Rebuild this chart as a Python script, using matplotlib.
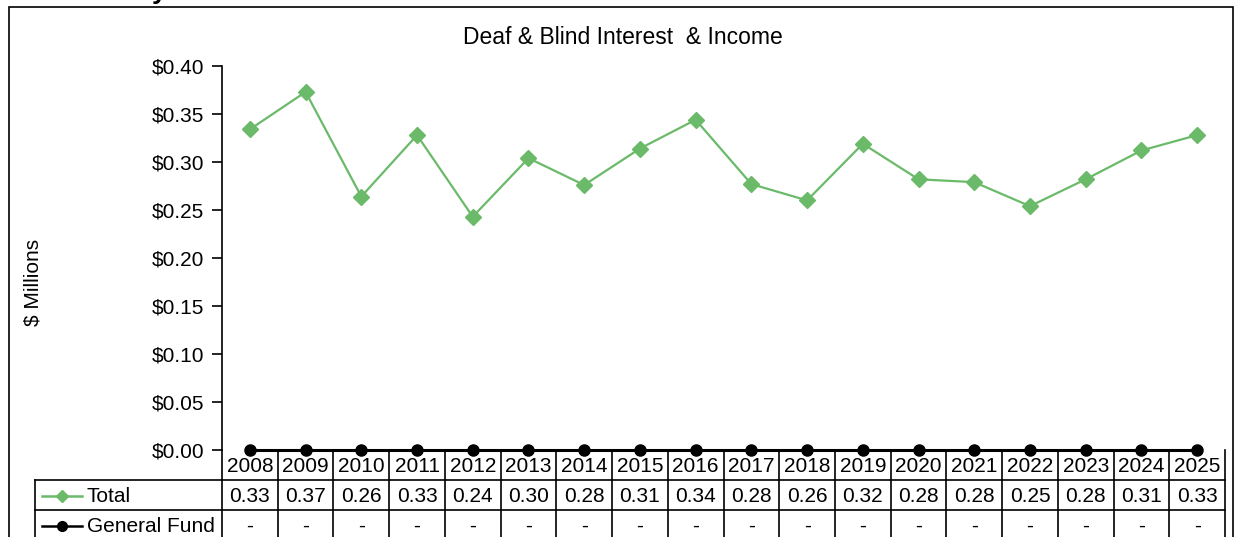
import numpy as np
import matplotlib
matplotlib.use("Agg")
import matplotlib.pyplot as plt
from matplotlib.patches import Rectangle
from matplotlib.lines import Line2D
import matplotlib.transforms as mtransforms

plt.rcParams['font.family'] = ['Liberation Sans', 'DejaVu Sans']

years = [str(y) for y in range(2008, 2026)]
total = [0.334, 0.373, 0.264, 0.328, 0.243, 0.304, 0.276, 0.314, 0.344,
         0.277, 0.260, 0.319, 0.282, 0.279, 0.254, 0.282, 0.312, 0.328]
general_fund = [0.0] * len(years)
series_names = ["Total", "General Fund"]

W, H = 1235, 537
green = '#6aba6a'
fs = 15

fig = plt.figure(figsize=(W / 100, H / 100), dpi=100)

# chart frame (bottom runs off the picture)
fig.patches.append(Rectangle((9 / W, -0.05), (1233 - 9) / W, 1.05 - 7 / H,
                             transform=fig.transFigure, fill=False,
                             edgecolor='black', linewidth=1.2))
# cut-off heading above the chart
fig.text(152 / W, 1 + 1 / H, "y", fontsize=19, fontweight='bold',
         va='baseline', ha='left')

ax_top, ax_bot = 66, 450
ax = fig.add_axes([222 / W, (H - ax_bot) / H, (1225 - 222) / W, (ax_bot - ax_top) / H])
x = np.arange(len(years))

ax.plot(x, total, color=green, lw=1.6, marker='D', ms=8, zorder=3)
ax.plot(x, general_fund, color='black', lw=2.2, marker='o', ms=8, zorder=4,
        clip_on=False)

ax.set_xlim(-0.5, len(years) - 0.5)
ax.set_ylim(0, 0.40)
ax.set_yticks(np.arange(0, 0.41, 0.05))
ax.set_yticklabels(['${:.2f}'.format(v) for v in np.arange(0, 0.41, 0.05)], fontsize=fs)
ax.set_xticks([])
for s in ['top', 'right', 'bottom']:
    ax.spines[s].set_visible(False)
ax.spines['left'].set_linewidth(1.2)
ax.tick_params(axis='y', length=7, width=1.2, pad=6)
fig.text(623 / W, 1 - 38 / H, "Deaf & Blind Interest  & Income", fontsize=16.5,
         ha='center', va='center')
fig.text(33 / W, 1 - 282 / H, "$ Millions", rotation=90, fontsize=fs,
         ha='center', va='center')

# data table below the axis
trans = mtransforms.blended_transform_factory(ax.transData, ax.transAxes)
col_w = (1225 - 222) / len(years)
def ay(py):
    return (ax_bot - py) / (ax_bot - ax_top)
def dx(px):
    return -0.5 + (px - 222) / col_w

left_x = dx(35)
kw = dict(transform=trans, clip_on=False, color='black', lw=1.2)
for py in [480, 510]:
    ax.add_line(Line2D([left_x, len(years) - 0.5], [ay(py)] * 2, **kw))
for i in range(len(years) + 1):
    ax.add_line(Line2D([i - 0.5] * 2, [ay(450), ay(545)], **kw))
ax.add_line(Line2D([left_x] * 2, [ay(480), ay(545)], **kw))

for i, yr in enumerate(years):
    ax.text(i, ay(466), yr, transform=trans, ha='center', va='center', fontsize=fs)
    ax.text(i, ay(496), '{:.2f}'.format(total[i]), transform=trans,
            ha='center', va='center', fontsize=fs)
    gf = general_fund[i]
    ax.text(i, ay(526), '-' if gf == 0 else '{:.2f}'.format(gf), transform=trans,
            ha='center', va='center', fontsize=fs)

# legend keys inside row headers
styles = [dict(color=green, marker='D', ms=6),
          dict(color='black', marker='o', ms=7)]
for name, st, py in zip(series_names, styles, [496, 526]):
    ax.add_line(Line2D([dx(42), dx(82)], [ay(py)] * 2, transform=trans,
                       clip_on=False, color=st['color'], lw=1.8))
    ax.add_line(Line2D([dx(62)], [ay(py)], transform=trans, clip_on=False,
                       color=st['color'], marker=st['marker'], ms=st['ms'], lw=0))
    ax.text(dx(87), ay(py), name, transform=trans, ha='left', va='center', fontsize=fs)

fig.savefig('out.png', dpi=100)
